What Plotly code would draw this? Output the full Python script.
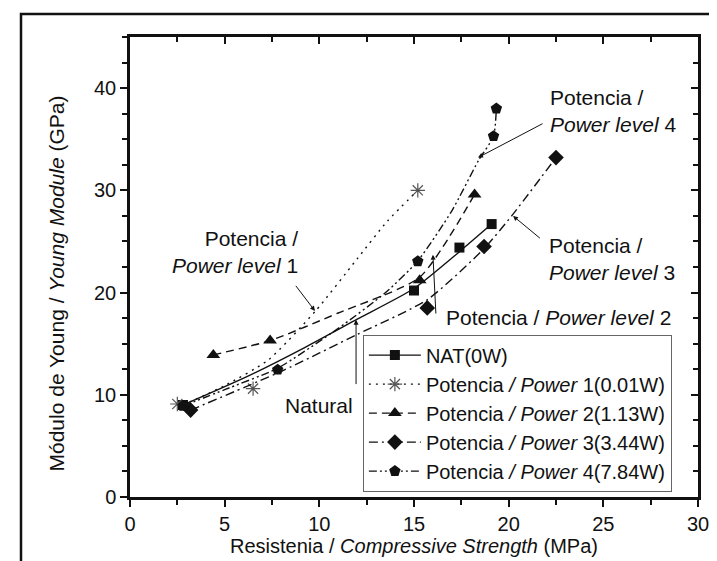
import plotly.graph_objects as go

# ---- measured points (x: compressive strength MPa, y: Young modulus GPa)
nat_x = [2.8, 15.0, 17.4, 19.1]
nat_y = [9.0, 20.2, 24.4, 26.7]
p1_x = [2.5, 6.5, 15.2]
p1_y = [9.1, 10.6, 30.0]
p2_x = [4.4, 7.4, 15.3, 18.2]
p2_y = [13.9, 15.3, 21.2, 29.6]
p3_x = [3.2, 15.7, 18.7, 22.5]
p3_y = [8.5, 18.5, 24.5, 33.2]
p4_x = [2.8, 7.8, 15.2, 19.2, 19.35]
p4_y = [8.9, 12.45, 23.06, 35.3, 38.0]

# ---- trend curves as drawn in the figure
nat_cx = [2.8, 6.2, 9.2, 12.0, 15.0, 17.4, 19.1]
nat_cy = [9.0, 11.8, 14.6, 17.4, 20.4, 24.0, 26.7]
p1_cx = [2.8, 5.0, 7.3, 9.8, 12.0, 13.6, 15.2]
p1_cy = [9.0, 10.9, 13.4, 18.2, 23.3, 27.0, 30.0]
p2_cx = [4.4, 7.4, 11.0, 15.3, 18.2]
p2_cy = [13.9, 15.3, 18.0, 21.5, 29.6]
p3_cx = [3.2, 8.0, 12.0, 15.7, 18.7, 20.2, 22.5]
p3_cy = [8.5, 12.3, 15.9, 19.3, 24.3, 27.6, 33.2]
p4_cx = [2.8, 5.0, 7.8, 11.0, 13.5, 15.2, 17.0, 18.4, 19.2, 19.35]
p4_cy = [8.9, 10.5, 12.6, 16.5, 20.0, 23.1, 28.0, 32.9, 35.3, 38.0]

legend_names = [
    "NAT(0W)",
    "Potencia <i>/ Power</i> 1(0.01W)",
    "Potencia <i>/ Power</i> 2(1.13W)",
    "Potencia <i>/ Power</i> 3(3.44W)",
    "Potencia <i>/ Power</i> 4(7.84W)",
]

FONT = "Arial, Liberation Sans, sans-serif"
FS = 20
FA = 21
BLACK = "#111111"
LW = 1.4

series = [
    (nat_x, nat_y, nat_cx, nat_cy, "solid", "square", BLACK, 10),
    (p1_x, p1_y, p1_cx, p1_cy, "2px,5px", "asterisk-open", "#555555", 12),
    (p2_x, p2_y, p2_cx, p2_cy, "8px,5px", "triangle-up", BLACK, 12),
    (p3_x, p3_y, p3_cx, p3_cy, "9px,4px,2px,4px", "diamond", BLACK, 12),
    (p4_x, p4_y, p4_cx, p4_cy, "8px,3px,2px,3px,2px,3px", "pentagon", BLACK, 12),
]

fig = go.Figure()
for (mx, my, cx, cy, dash, sym, col, ms), name in zip(series, legend_names):
    mline = dict(color=col, width=1.2 if "open" in sym else 0)
    fig.add_trace(go.Scatter(x=cx, y=cy, mode="lines",
                             line=dict(color=BLACK, width=LW, dash=dash, shape="spline", smoothing=0.6),
                             showlegend=False, hoverinfo="skip"))
    fig.add_trace(go.Scatter(x=mx, y=my, mode="markers",
                             marker=dict(symbol=sym, size=ms, color=col, line=mline),
                             showlegend=False))
    # legend entry (line + marker sample)
    fig.add_trace(go.Scatter(x=[None], y=[None], mode="lines+markers", name=name,
                             line=dict(color=BLACK, width=LW, dash=dash),
                             marker=dict(symbol=sym, size=ms, color=col, line=mline)))

# mirror axes (top / right with inward ticks)
fig.add_trace(go.Scatter(x=[None], y=[None], xaxis="x2", yaxis="y2", showlegend=False))

axis_common = dict(showline=True, linecolor=BLACK, linewidth=2.5, showgrid=False, zeroline=False,
                   tickcolor=BLACK, tickwidth=2, ticklen=7,
                   tickfont=dict(family=FONT, size=FS, color=BLACK))
mirror_common = dict(showticklabels=False, showline=True, linecolor=BLACK, linewidth=2.5,
                     showgrid=False, zeroline=False, tickcolor=BLACK, tickwidth=2, ticklen=7)

fig.update_layout(
    width=717, height=561,
    margin=dict(l=122, r=27, t=29, b=72),
    paper_bgcolor="white", plot_bgcolor="white",
    font=dict(family=FONT, size=FS, color=BLACK),
    xaxis=dict(range=[0, 30], dtick=5, ticks="outside",
               minor=dict(dtick=2.5, ticks="outside", ticklen=5, tickwidth=2, tickcolor=BLACK),
               title=dict(text="Resistenia / <i>Compressive Strength</i> (MPa)",
                          font=dict(family=FONT, size=FS), standoff=6),
               **axis_common),
    yaxis=dict(range=[0, 45], dtick=10, ticks="outside",
               minor=dict(dtick=2.5, ticks="outside", ticklen=5, tickwidth=2, tickcolor=BLACK),
               **axis_common),
    xaxis2=dict(overlaying="x", side="top", range=[0, 30], dtick=5, ticks="inside",
                minor=dict(dtick=2.5, ticks="inside", ticklen=5, tickwidth=2, tickcolor=BLACK),
                **mirror_common),
    yaxis2=dict(overlaying="y", side="right", range=[0, 45], dtick=10, ticks="inside",
                minor=dict(dtick=2.5, ticks="inside", ticklen=5, tickwidth=2, tickcolor=BLACK),
                **mirror_common),
    legend=dict(x=0.41, y=0.353, xanchor="left", yanchor="top", bgcolor="white",
                bordercolor="#666666", borderwidth=1, font=dict(family=FONT, size=FS, color=BLACK),
                tracegroupgap=0, itemwidth=52),
)

# y-axis title (placed as in the original figure)
fig.add_annotation(xref="paper", yref="paper", x=(34 - 122) / 568, y=(489 - 276) / 460,
                   text="Módulo de Young / <i>Young Module</i> (GPa)", textangle=-90,
                   showarrow=False, font=dict(family=FONT, size=FA, color=BLACK))

# outer frame of the figure
fig.add_shape(type="rect", xref="paper", yref="paper",
              x0=(13 - 122) / 568, x1=(712 - 122) / 568, y0=-0.3, y1=(489 - 6) / 460,
              line=dict(color=BLACK, width=2.5), layer="below")

ann_font = dict(family=FONT, size=FA, color=BLACK)
# text labels
fig.add_annotation(x=9.0, y=24.0, text="Potencia /<br><i>Power level</i> 1", showarrow=False,
                   xanchor="right", align="right", font=ann_font)
fig.add_annotation(x=10.0, y=9.0, text="Natural", showarrow=False, font=ann_font)
fig.add_annotation(x=16.6, y=17.6, text="Potencia / <i>Power level</i> 2", showarrow=False,
                   xanchor="left", font=ann_font)
fig.add_annotation(x=22.0, y=23.3, text="Potencia /<br><i>Power level</i> 3", showarrow=False,
                   xanchor="left", align="left", font=ann_font)
fig.add_annotation(x=22.1, y=37.8, text="Potencia /<br><i>Power level</i> 4", showarrow=False,
                   xanchor="left", align="left", font=ann_font)

# arrows (tail -> tip)
arrows = [((8.7, 20.8), (9.77, 18.2)),
          ((11.94, 10.9), (11.94, 17.35)),
          ((16.16, 17.8), (16.0, 23.7)),
          ((21.73, 25.2), (20.23, 27.5)),
          ((21.87, 36.6), (18.38, 33.2))]
for (tx, ty), (hx, hy) in arrows:
    fig.add_annotation(x=hx, y=hy, ax=tx, ay=ty, xref="x", yref="y", axref="x", ayref="y",
                       text="", showarrow=True, arrowhead=2, arrowsize=1, arrowwidth=1, arrowcolor=BLACK)

fig.write_html("out.html")
